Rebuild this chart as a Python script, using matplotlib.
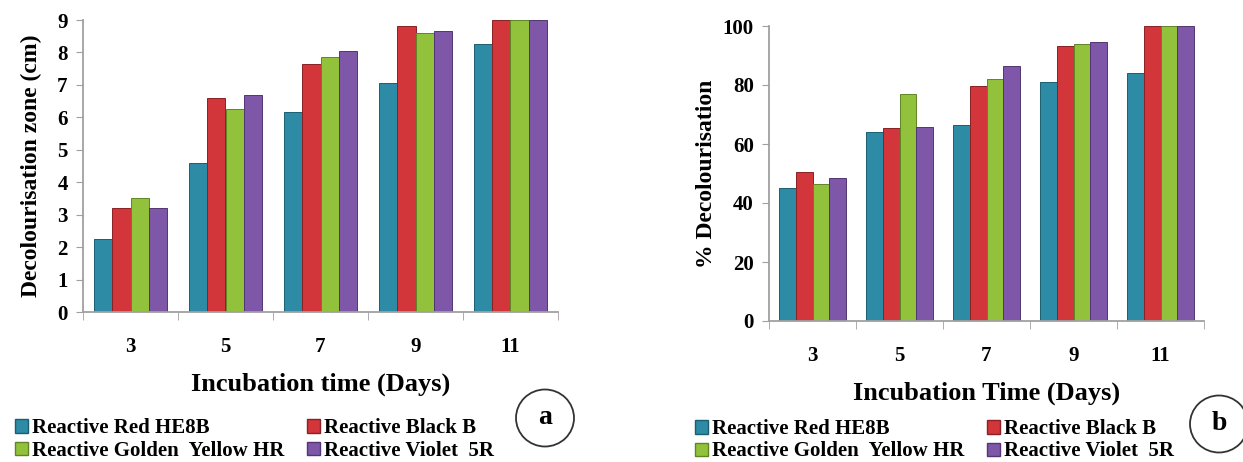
import matplotlib.pyplot as plt
from matplotlib.patches import Ellipse
import numpy as np

days = ["3", "5", "7", "9", "11"]
dyes = ["Reactive Red HE8B", "Reactive Black B", "Reactive Golden  Yellow HR", "Reactive Violet  5R"]
colors = ["#2d8ba6", "#d2363a", "#92c23c", "#7e57a8"]
edges = ["#1b5e70", "#8a2124", "#5f8526", "#513673"]

# (a) decolourisation zone, cm
zone_red = [2.25, 4.6, 6.15, 7.05, 8.25]
zone_black = [3.2, 6.6, 7.65, 8.8, 9.0]
zone_yellow = [3.5, 6.25, 7.85, 8.6, 9.0]
zone_violet = [3.2, 6.7, 8.05, 8.65, 9.0]

# (b) % decolourisation
pct_red = [45, 64, 66.4, 81, 84]
pct_black = [50.6, 65.3, 79.6, 93.3, 100]
pct_yellow = [46.6, 77, 82.2, 93.9, 100]
pct_violet = [48.5, 65.8, 86.4, 94.5, 100]

plt.rcParams['font.family'] = ['Liberation Serif', 'DejaVu Serif']
plt.rcParams['font.weight'] = 'bold'

W, H = 1243, 462
fig = plt.figure(figsize=(W / 100, H / 100), dpi=100)
axA = fig.add_axes([83/W, 1-312/H, 475/W, 292/H])
axB = fig.add_axes([769/W, 1-321/H, 435/W, 295/H])


def draw(ax, series, ymax, step, ylabel, xlabel, ylpad):
    x = np.arange(len(days))
    w = 0.19
    for i, vals in enumerate(series):
        ax.bar(x + (i - 1.5) * w, vals, w, color=colors[i], edgecolor=edges[i], linewidth=0.7)
    ax.set_xlim(-0.5, len(days) - 0.5)
    ax.set_ylim(0, ymax)
    ax.set_yticks(np.arange(0, ymax + 0.01, step))
    ax.set_xticks(x)
    ax.set_xticklabels(days)
    ax.set_xticks(np.arange(-0.5, len(days)), minor=True)
    ax.tick_params(axis='x', which='major', length=0, pad=18, labelsize=15)
    ax.tick_params(axis='x', which='minor', length=6, color='#a0a0a0')
    ax.tick_params(axis='y', length=5, color='#a0a0a0', labelsize=15, pad=6)
    for s in ['top', 'right']:
        ax.spines[s].set_visible(False)
    for s in ['left', 'bottom']:
        ax.spines[s].set_color('#a0a0a0')
        ax.spines[s].set_linewidth(1.3)
    ax.set_ylabel(ylabel, fontsize=17, fontweight='bold', labelpad=ylpad)
    ax.set_xlabel(xlabel, fontsize=19, fontweight='bold', labelpad=11)


draw(axA, [zone_red, zone_black, zone_yellow, zone_violet], 9, 1,
     "Decolourisation zone (cm)", "Incubation time (Days)", 11)
draw(axB, [pct_red, pct_black, pct_yellow, pct_violet], 100, 20,
     "% Decolourisation", "Incubation Time (Days)", 4)

handles = [plt.Rectangle((0, 0), 1, 1, color=c, ec=e) for c, e in zip(colors, edges)]
order = [0, 2, 1, 3]
for lx, ly, lab, cx, cy in [(5, 408, "a", 545, 418), (685, 409, "b", 1219, 424)]:
    fig.legend([handles[i] for i in order], [dyes[i] for i in order], ncol=2,
               loc='upper left', bbox_to_anchor=(lx/W, 1 - ly/H), borderpad=0,
               frameon=False, handlelength=0.6, handleheight=0.6, handletextpad=0.2,
               columnspacing=1.1, labelspacing=0.1, prop={'size': 15, 'weight': 'bold'})
    fig.text(cx/W, 1 - cy/H, lab, ha='center', va='center', fontsize=20, fontweight='bold')
    fig.patches.append(Ellipse((cx/W, 1 - cy/H), 58/W, 57/H, transform=fig.transFigure,
                               fill=False, ec='#333333', lw=1.3))

fig.savefig("out.png", dpi=100)
